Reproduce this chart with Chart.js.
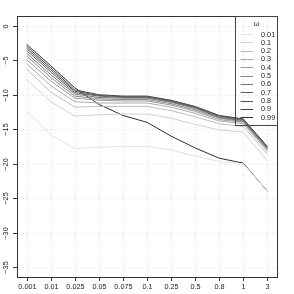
<!DOCTYPE html>
<html>
<head>
<meta charset="utf-8">
<script src="https://cdn.jsdelivr.net/npm/chart.js@4/dist/chart.umd.min.js"></script>
<style>
  html, body { margin: 0; padding: 0; background: #fff; }
</style>
</head>
<body>
<canvas id="chart" width="294" height="294"></canvas>
<script>
// x categories (step size) and legend entries (omega)
const categories = ['0.001', '0.01', '0.025', '0.05', '0.075', '0.1', '0.25', '0.5', '0.8', '1', '3'];
const omegas = ['0.01', '0.1', '0.2', '0.3', '0.4', '0.5', '0.6', '0.7', '0.8', '0.9', '0.99'];
const yTicks = [0, -5, -10, -15, -20, -25, -30, -35];

// one series per omega
const w001 = [-12.3, -15.8, -17.8, -17.6, -17.5, -17.5, -18.0, -18.9, -19.7, -20.0, -24.0];
const w01  = [-7.8, -11.0, -13.1, -12.9, -12.8, -12.8, -13.4, -14.3, -15.1, -15.4, -19.6];
const w02  = [-6.3, -9.6, -11.8, -11.7, -11.7, -11.7, -12.3, -13.2, -14.2, -14.6, -18.6];
const w03  = [-5.5, -8.7, -11.0, -11.2, -11.2, -11.2, -11.8, -12.7, -13.8, -14.2, -18.2];
const w04  = [-4.9, -8.0, -10.5, -10.8, -10.9, -10.9, -11.5, -12.4, -13.6, -14.0, -18.0];
const w05  = [-4.4, -7.5, -10.2, -10.6, -10.7, -10.7, -11.3, -12.2, -13.4, -13.9, -17.9];
const w06  = [-4.0, -7.1, -9.9, -10.4, -10.5, -10.5, -11.1, -12.0, -13.3, -13.8, -17.8];
const w07  = [-3.6, -6.7, -9.7, -10.2, -10.4, -10.4, -11.0, -11.9, -13.2, -13.7, -17.7];
const w08  = [-3.3, -6.4, -9.5, -10.1, -10.3, -10.3, -10.9, -11.8, -13.1, -13.6, -17.6];
const w09  = [-3.0, -6.1, -9.3, -10.0, -10.2, -10.2, -10.8, -11.7, -13.0, -13.5, -17.5];
const w099 = [-2.7, -5.8, -9.0, -11.4, -13.0, -14.0, -16.0, -17.7, -19.2, -19.9, -24.0];

const seriesList = [w001, w01, w02, w03, w04, w05, w06, w07, w08, w09, w099];
const grays = ['#e2e2e2', '#d0d0d0', '#bebebe', '#acacac', '#9a9a9a', '#888888',
               '#767676', '#636363', '#515151', '#414141', '#303030'];

const FONT = '7.3px "Liberation Sans", Arial, sans-serif';

const datasets = seriesList.map((vals, i) => ({
  label: omegas[i],
  data: vals.map((v, j) => ({ x: j + 1, y: v })),
  borderColor: grays[i],
  borderWidth: 1,
  pointRadius: 0,
  tension: 0,
  fill: false
}));

const rPlot = {
  id: 'rPlot',
  beforeDatasetsDraw(chart) {
    const { ctx, chartArea: a, scales: { x, y } } = chart;
    ctx.save();
    ctx.strokeStyle = '#e2e2e2';
    ctx.lineWidth = 1;
    ctx.setLineDash([1, 2]);
    categories.forEach((c, i) => {
      const px = Math.round(x.getPixelForValue(i + 1)) + 0.5;
      ctx.beginPath(); ctx.moveTo(px, a.top); ctx.lineTo(px, a.bottom); ctx.stroke();
    });
    yTicks.forEach(v => {
      const py = Math.round(y.getPixelForValue(v)) + 0.5;
      ctx.beginPath(); ctx.moveTo(a.left, py); ctx.lineTo(a.right, py); ctx.stroke();
    });
    ctx.restore();
  },
  afterDraw(chart) {
    const { ctx, chartArea: a, scales: { x, y } } = chart;
    ctx.save();
    ctx.strokeStyle = '#333';
    ctx.lineWidth = 1;
    ctx.setLineDash([]);
    // box
    ctx.strokeRect(Math.round(a.left) + 0.5, Math.round(a.top) + 0.5,
      Math.round(a.right - a.left), Math.round(a.bottom - a.top));

    ctx.fillStyle = '#222';
    ctx.font = FONT;
    // x axis ticks + labels
    ctx.textAlign = 'center';
    ctx.textBaseline = 'middle';
    categories.forEach((c, i) => {
      const px = Math.round(x.getPixelForValue(i + 1)) + 0.5;
      ctx.beginPath(); ctx.moveTo(px, a.bottom); ctx.lineTo(px, a.bottom + 4); ctx.stroke();
      ctx.fillText(c, px, a.bottom + 10);
    });
    // y axis ticks + rotated labels
    yTicks.forEach(v => {
      const py = Math.round(y.getPixelForValue(v)) + 0.5;
      ctx.beginPath(); ctx.moveTo(a.left, py); ctx.lineTo(a.left - 4, py); ctx.stroke();
      ctx.save();
      ctx.translate(a.left - 11, py);
      ctx.rotate(-Math.PI / 2);
      ctx.fillText(v === 0 ? '0' : '\u2212' + Math.abs(v), 0, 0);
      ctx.restore();
    });

    // legend in the top right corner
    const lx0 = 235.5, lx1 = Math.round(a.right) + 0.5;
    const ly0 = Math.round(a.top) + 0.5, ly1 = 125.5;
    ctx.strokeStyle = '#444';
    ctx.strokeRect(lx0, ly0, lx1 - lx0, ly1 - ly0);
    ctx.textAlign = 'center';
    ctx.fillText('\u03c9', (lx0 + lx1) / 2, 23.5);
    ctx.textAlign = 'left';
    omegas.forEach((o, i) => {
      const ly = 34 + i * 8.33;
      ctx.strokeStyle = grays[i];
      ctx.beginPath();
      ctx.moveTo(240.5, Math.round(ly) + 0.5);
      ctx.lineTo(253, Math.round(ly) + 0.5);
      ctx.stroke();
      ctx.fillText(o, 261, ly + 0.5);
    });
    ctx.restore();
  }
};

new Chart(document.getElementById('chart'), {
  type: 'line',
  data: { datasets },
  options: {
    responsive: false,
    animation: false,
    devicePixelRatio: 1,
    layout: { padding: { left: 17, top: 16, right: 17, bottom: 17 } },
    plugins: { legend: { display: false }, tooltip: { enabled: false } },
    scales: {
      x: { type: 'linear', min: 0.6, max: 11.4, display: false },
      y: { type: 'linear', min: -36.4, max: 1.4, display: false }
    }
  },
  plugins: [rPlot]
});
</script>
</body>
</html>
